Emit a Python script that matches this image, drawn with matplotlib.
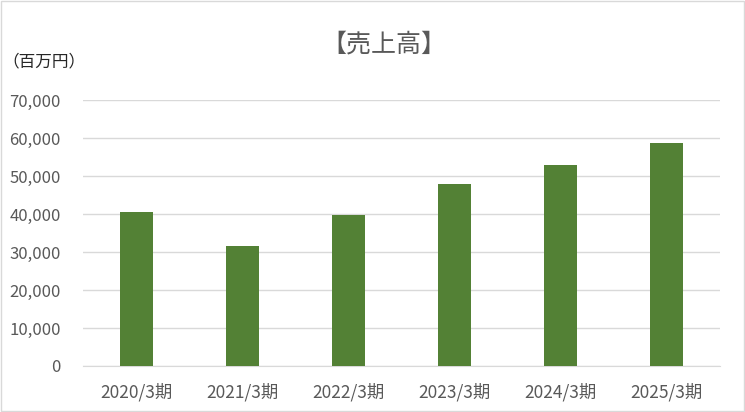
import matplotlib.pyplot as plt
from matplotlib.patches import Rectangle

plt.rcParams['font.family'] = ['Noto Sans CJK JP', 'DejaVu Sans']

years = ["2020/3期", "2021/3期", "2022/3期", "2023/3期", "2024/3期", "2025/3期"]
sales = [40500, 31600, 39700, 47800, 52800, 58800]
yticks = [0, 10000, 20000, 30000, 40000, 50000, 60000, 70000]

fig = plt.figure(figsize=(7.45, 4.12), dpi=100)
ax = fig.add_axes([83 / 745, (412 - 366) / 412, 637 / 745, 266 / 412])

x = range(len(years))
ax.bar(x, sales, width=0.31, color='#538135', zorder=3)

ax.set_xlim(-0.5, len(years) - 0.5)
ax.set_ylim(0, 70000)
ax.set_yticks(yticks)
ax.set_yticklabels([f"{v:,}" for v in yticks])
ax.set_xticks(list(x))
ax.set_xticklabels(years)
ax.tick_params(axis='both', length=0, colors='#595959')
ax.tick_params(axis='y', pad=16, labelsize=12)
ax.tick_params(axis='x', pad=12, labelsize=12.5)
ax.grid(axis='y', color='#d9d9d9', linewidth=1, zorder=0)
for s in ['top', 'right', 'left']:
    ax.spines[s].set_visible(False)
ax.spines['bottom'].set_color('#d9d9d9')

fig.text(384 / 745, 1 - 44 / 412, "【売上高】", ha='center', va='center',
         fontsize=18, color='#595959')
fig.text(2 / 745, 1 - 62 / 412, "（百万円）", ha='left', va='center',
         fontsize=12, color='#262626')

fig.patches.append(Rectangle((0.001, 0.002), 0.997, 0.996, transform=fig.transFigure,
                             fill=False, edgecolor='#d9d9d9', linewidth=1))

plt.savefig("out.png", dpi=100)
